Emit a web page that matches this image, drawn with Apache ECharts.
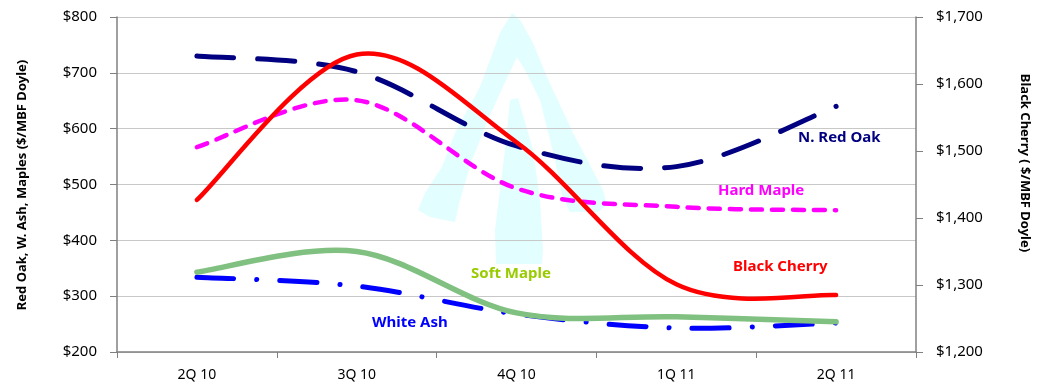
<!DOCTYPE html>
<html>
<head>
<meta charset="utf-8">
<script src="https://cdn.jsdelivr.net/npm/echarts@6/dist/echarts.min.js"></script>
<style>html,body{margin:0;padding:0;background:#fff;}#c{width:1045px;height:386px;}</style>
</head>
<body>
<div id="c"></div>
<script>
var categories = ['2Q 10', '3Q 10', '4Q 10', '1Q 11', '2Q 11'];
var redOak = [730, 702, 569, 532, 640];
var hardMaple = [567, 651, 493, 460, 454];
var softMaple = [343, 380, 270, 263, 254];
var whiteAsh = [334, 318, 268, 243, 252];
var blackCherry = [1427, 1644, 1513, 1301, 1285];

var FONT = 'Noto Sans';
var chart = echarts.init(document.getElementById('c'), null, {renderer: 'canvas'});

function money(v) {
  return '$' + String(v).replace(/\B(?=(\d{3})+(?!\d))/g, ',');
}

// Smoothed line (Excel-like cardinal spline) drawn through the chart's own scales via api.coord
function splineSeries(name, values, yAxisIndex, style, z) {
  return {
    type: 'custom', name: name, coordinateSystem: 'cartesian2d',
    xAxisIndex: 0, yAxisIndex: yAxisIndex, z: z, silent: true, clip: false,
    data: values.map(function (v, i) { return [i, v]; }),
    encode: {x: 0, y: 1},
    renderItem: function (params, api) {
      if (params.dataIndex !== 0) return null;
      var pts = values.map(function (v, i) { return api.coord([i, v]); });
      var n = pts.length;
      var d = 'M' + pts[0][0] + ' ' + pts[0][1];
      for (var i = 0; i < n - 1; i++) {
        var p0 = pts[Math.max(i - 1, 0)], p1 = pts[i], p2 = pts[i + 1], p3 = pts[Math.min(i + 2, n - 1)];
        var c1x = p1[0] + (p2[0] - p0[0]) / 6, c1y = p1[1] + (p2[1] - p0[1]) / 6;
        var c2x = p2[0] - (p3[0] - p1[0]) / 6, c2y = p2[1] - (p3[1] - p1[1]) / 6;
        d += ' C' + c1x + ' ' + c1y + ' ' + c2x + ' ' + c2y + ' ' + p2[0] + ' ' + p2[1];
      }
      return {
        type: 'path',
        shape: {pathData: d},
        style: Object.assign({fill: null, lineJoin: 'round'}, style)
      };
    }
  };
}

var wmColor = '#e2fefe';

var option = {
  animation: false,
  backgroundColor: '#ffffff',
  grid: {left: 117, right: 129, top: 17, bottom: 34, containLabel: false},
  xAxis: {
    type: 'category',
    data: categories,
    boundaryGap: true,
    axisLine: {show: true, lineStyle: {color: '#808080', width: 1.5}},
    axisTick: {show: true, length: 6, lineStyle: {color: '#808080'}},
    axisLabel: {color: '#000', fontFamily: FONT, fontSize: 14, margin: 16},
    splitLine: {show: false}
  },
  yAxis: [
    {
      type: 'value', min: 200, max: 800, interval: 100, position: 'left',
      axisLine: {show: true, lineStyle: {color: '#808080', width: 1.5}},
      axisTick: {show: true, length: 7, lineStyle: {color: '#808080'}},
      axisLabel: {color: '#000', fontFamily: FONT, fontSize: 15, margin: 20, formatter: money},
      splitLine: {show: true, lineStyle: {color: '#c8c8c8', width: 1.2}}
    },
    {
      type: 'value', min: 1200, max: 1700, interval: 100, position: 'right',
      axisLine: {show: true, lineStyle: {color: '#808080', width: 1.5}},
      axisTick: {show: true, length: 7, lineStyle: {color: '#808080'}},
      axisLabel: {color: '#000', fontFamily: FONT, fontSize: 15, margin: 20, formatter: money},
      splitLine: {show: false}
    }
  ],
  graphic: [
    {type: 'polygon', z: -10, silent: true,
      shape: {points: [[418,210],[425,193],[442,167],[455,133],[480,87],[490,60],[500,33],[512,13],[520,20],[533,43],[547,77],[560,105],[573,133],[590,165],[603,190],[607,205],[598,212],[570,212],[562,195],[555,160],[545,120],[540,100],[525,70],[517,57],[500,93],[490,115],[472,160],[460,200],[455,222],[430,217]]},
      style: {fill: wmColor}},
    {type: 'polygon', z: -10, silent: true,
      shape: {points: [[510,100],[518,98],[533,150],[540,200],[543,250],[542,264],[496,264],[495,230],[500,190],[505,150]]},
      style: {fill: wmColor}},
    {type: 'text', z: 50, left: 798, top: 130, style: {text: 'N. Red Oak', fill: '#000080', font: 'bold 15px "Noto Sans"'}},
    {type: 'text', z: 50, left: 718, top: 183, style: {text: 'Hard Maple', fill: '#ff00ff', font: 'bold 15px "Noto Sans"'}},
    {type: 'text', z: 50, left: 733, top: 259, style: {text: 'Black Cherry', fill: '#ff0000', font: 'bold 15px "Noto Sans"'}},
    {type: 'text', z: 50, left: 471, top: 266, style: {text: 'Soft Maple', fill: '#99cc00', font: 'bold 15px "Noto Sans"'}},
    {type: 'text', z: 50, left: 372, top: 315, style: {text: 'White Ash', fill: '#0000ff', font: 'bold 15px "Noto Sans"'}},
    {type: 'text', z: 50, x: 22, y: 185, rotation: Math.PI / 2,
      style: {text: 'Red Oak, W. Ash, Maples ($/MBF Doyle)', fill: '#000', font: 'bold 13px "Noto Sans"', align: 'center', verticalAlign: 'middle', x: 0, y: 0}},
    {type: 'text', z: 50, x: 1025, y: 163, rotation: -Math.PI / 2,
      style: {text: 'Black Cherry ( $/MBF Doyle)', fill: '#000', font: 'bold 13px "Noto Sans"', align: 'center', verticalAlign: 'middle', x: 0, y: 0}}
  ],
  series: [
    splineSeries('White Ash', whiteAsh, 0, {stroke: '#0000ff', lineWidth: 5, lineDash: [37, 23, 0.1, 23], lineCap: 'round'}, 2),
    splineSeries('Soft Maple', softMaple, 0, {stroke: '#80c080', lineWidth: 5.5, lineCap: 'round'}, 3),
    splineSeries('Hard Maple', hardMaple, 0, {stroke: '#ff00ff', lineWidth: 4.5, lineDash: [11, 10], lineCap: 'round'}, 4),
    splineSeries('N. Red Oak', redOak, 0, {stroke: '#000080', lineWidth: 5, lineDash: [37, 24], lineCap: 'round'}, 5),
    splineSeries('Black Cherry', blackCherry, 1, {stroke: '#ff0000', lineWidth: 4.5, lineCap: 'round'}, 6)
  ]
};
chart.setOption(option);
</script>
</body>
</html>
